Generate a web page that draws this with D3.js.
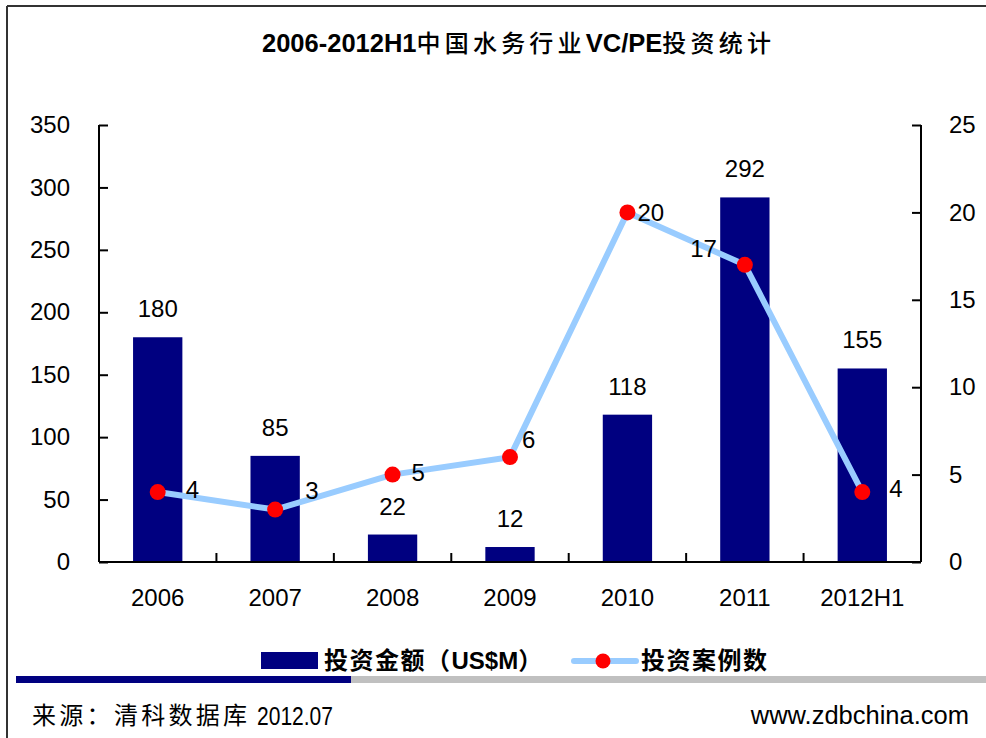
<!DOCTYPE html>
<html><head><meta charset="utf-8">
<script src="https://cdn.jsdelivr.net/npm/d3@7"></script>
<style>
html,body{margin:0;padding:0;background:#fff;}
svg text{font-family:"Liberation Sans",Arial,"Noto Sans CJK SC",sans-serif;fill:#000;}
.cjk{font-family:"Noto Sans CJK SC","Liberation Sans",sans-serif;}
</style></head>
<body>
<svg id="chart" width="986" height="738"></svg>
<script>
const categories = ["2006","2007","2008","2009","2010","2011","2012H1"];
const amounts = [180, 85, 22, 12, 118, 292, 155];
const cases = [4, 3, 5, 6, 20, 17, 4];
const leftTicks = [0,50,100,150,200,250,300,350];
const rightTicks = [0,5,10,15,20,25];
const titleParts = [["2006-2012H1", "latin"], ["中国水务行业", "cjk"], ["VC/PE", "latin"], ["投资统计", "cjk"]];
const legendParts = [[["投资金额（", "cjk"], ["US$M", "latin"], ["）", "cjk"]], [["投资案例数", "cjk"]]];
const sourceText = "来源：清科数据库";
const sourceDate = "2012.07";
const siteText = "www.zdbchina.com";

// label placement for line data labels (dx from point, dy of text center, anchor)
const caseLabelPos = [[28,-2,"start"],[30,-19,"start"],[19,-2,"start"],[12,-18,"start"],[10,0,"start"],[-28,-16,"end"],[27,-3,"start"]];

const svg = d3.select("#chart");
const L = 99, R = 921, T = 125, B = 562;

// frame
svg.append("line").attr("x1",7).attr("x2",986).attr("y1",6).attr("y2",6).attr("stroke","#333").attr("stroke-width",2);
svg.append("line").attr("x1",7).attr("x2",7).attr("y1",6).attr("y2",738).attr("stroke","#333").attr("stroke-width",2);

// title
const title = svg.append("text").attr("x",262).attr("y",52).attr("font-size",25.5);
titleParts.forEach(([t,k])=>{
  const ts = title.append("tspan").text(t);
  if(k==="latin") ts.attr("font-weight","bold");
  else ts.attr("class","cjk").attr("font-size",24).attr("font-weight",500).attr("letter-spacing",4.2);
});

const x = d3.scaleBand().domain(categories).range([L,R]).paddingInner(0).paddingOuter(0);
const yL = d3.scaleLinear().domain([0,350]).range([B,T]);
const yR = d3.scaleLinear().domain([0,25]).range([B,T]);
const bw = x.bandwidth()*0.42;

// bars
svg.selectAll("rect.bar").data(amounts).join("rect").attr("class","bar")
  .attr("x",(d,i)=>x(categories[i])+x.bandwidth()/2-bw/2)
  .attr("y",d=>yL(d)).attr("width",bw).attr("height",d=>B-yL(d))
  .attr("fill","#000080");

// left axis
const axL = d3.axisLeft(yL).tickValues(leftTicks).tickSize(-9).tickPadding(29);
const gL = svg.append("g").attr("transform",`translate(${L},0)`).call(axL);
// right axis
const axR = d3.axisRight(yR).tickValues(rightTicks).tickSize(-9).tickPadding(28);
const gR = svg.append("g").attr("transform",`translate(${R},0)`).call(axR);
// bottom axis
const axB = d3.axisBottom(x).tickSize(0).tickPadding(27);
const gB = svg.append("g").attr("transform",`translate(0,${B})`).call(axB);
[gL,gR,gB].forEach(g=>{
  g.selectAll("path.domain").attr("stroke","#000").attr("stroke-width",2);
  g.selectAll(".tick line").attr("stroke","#000").attr("stroke-width",2);
  g.selectAll("text").attr("font-size",24).attr("font-family",'"Liberation Sans",Arial,sans-serif').attr("fill","#000");
});
gL.select("path.domain").attr("d",`M0,${T}V${B}`);
gR.select("path.domain").attr("d",`M0,${T}V${B}`);
gB.select("path.domain").attr("d",`M${L},0H${R}`);
gB.selectAll(".tick text").attr("dy","0.71em");
// category separators
svg.selectAll("line.sep").data(categories.slice(1)).join("line").attr("class","sep")
  .attr("x1",d=>x(d)).attr("x2",d=>x(d)).attr("y1",B).attr("y2",B-9)
  .attr("stroke","#000").attr("stroke-width",2);

// bar value labels
svg.selectAll("text.bv").data(amounts).join("text").attr("class","bv")
  .attr("x",(d,i)=>x(categories[i])+x.bandwidth()/2).attr("y",d=>yL(d)-20)
  .attr("text-anchor","middle").attr("font-size",24).text(d=>d);

// line
const cx = i=>x(categories[i])+x.bandwidth()/2;
const line = d3.line().x((d,i)=>cx(i)).y(d=>yR(d));
svg.append("path").datum(cases).attr("d",line).attr("fill","none")
  .attr("stroke","#99CCFF").attr("stroke-width",6).attr("stroke-linejoin","round");
svg.selectAll("circle.pt").data(cases).join("circle").attr("class","pt")
  .attr("cx",(d,i)=>cx(i)).attr("cy",d=>yR(d)).attr("r",8).attr("fill","#FF0000");
svg.selectAll("text.cv").data(cases).join("text").attr("class","cv")
  .attr("x",(d,i)=>cx(i)+caseLabelPos[i][0]).attr("y",(d,i)=>yR(d)+caseLabelPos[i][1])
  .attr("dy","0.35em").attr("text-anchor",(d,i)=>caseLabelPos[i][2]).attr("font-size",24).text(d=>d);

// legend
function legendText(xPos, parts){
  const t = svg.append("text").attr("x",xPos).attr("y",669).attr("font-size",24).attr("font-weight","bold");
  parts.forEach(([s,k])=>{
    const ts = t.append("tspan").text(s);
    if(k==="cjk") ts.attr("class","cjk").attr("letter-spacing",1.5);
  });
}
svg.append("rect").attr("x",261).attr("y",652).attr("width",57).attr("height",17).attr("fill","#000080");
legendText(324, legendParts[0]);
svg.append("line").attr("x1",574).attr("x2",636).attr("y1",661).attr("y2",661)
  .attr("stroke","#99CCFF").attr("stroke-width",6).attr("stroke-linecap","round");
svg.append("circle").attr("cx",603).attr("cy",661).attr("r",7.5).attr("fill","#FF0000");
legendText(641, legendParts[1]);

// bottom band
svg.append("rect").attr("x",16).attr("y",676).attr("width",335).attr("height",7).attr("fill","#000080");
svg.append("rect").attr("x",351).attr("y",676).attr("width",635).attr("height",7).attr("fill","#C0C0C0");

// footer
svg.append("text").attr("x",32).attr("y",724).attr("class","cjk").attr("font-size",24)
  .attr("letter-spacing",3.3).attr("fill","#222").text(sourceText);
svg.append("text").attr("x",257).attr("y",725).attr("font-size",25)
  .attr("textLength",76).attr("lengthAdjust","spacingAndGlyphs").text(sourceDate);
svg.append("text").attr("x",969).attr("y",724).attr("text-anchor","end").attr("font-size",25.5).text(siteText);
</script>
</body></html>
